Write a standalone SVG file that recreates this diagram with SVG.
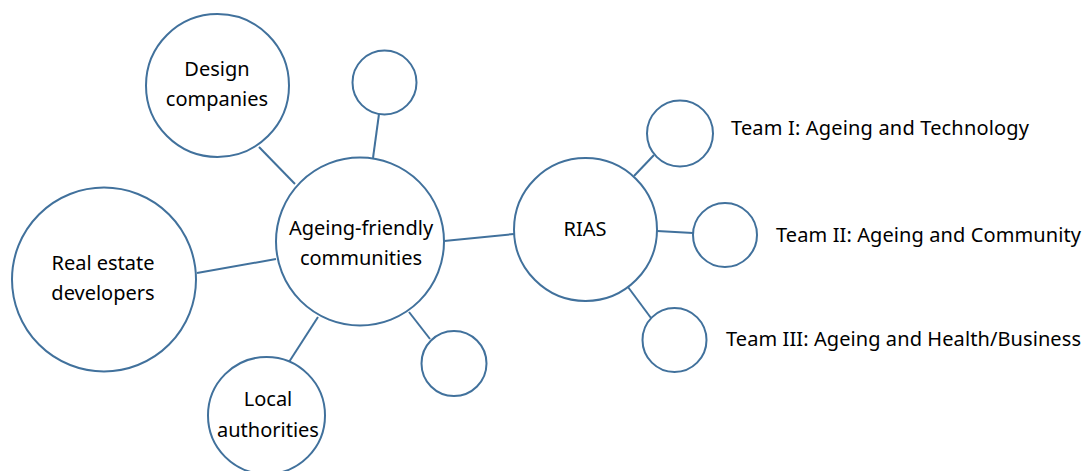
<svg xmlns="http://www.w3.org/2000/svg" width="1085" height="471" viewBox="0 0 1085 471">
  <style>
    .node { fill: #ffffff; stroke: #41719c; stroke-width: 2; }
    .link { stroke: #41719c; stroke-width: 2; fill: none; }
    .label { font-family: "Noto Sans", "Open Sans", sans-serif; font-size: 20px; fill: #000000; text-anchor: middle; }
    .side { font-family: "Noto Sans", "Open Sans", sans-serif; font-size: 20px; fill: #000000; }
  </style>
  <rect width="1085" height="471" fill="#ffffff"/>

  <!-- connectors -->
  <g id="connectors">
    <line class="link" x1="259" y1="147" x2="295" y2="184"/>
    <line class="link" x1="379" y1="114" x2="373" y2="158"/>
    <line class="link" x1="197" y1="273" x2="276" y2="259"/>
    <line class="link" x1="289" y1="362" x2="318" y2="317"/>
    <line class="link" x1="409" y1="312" x2="430" y2="339"/>
    <line class="link" x1="444" y1="241" x2="514" y2="234"/>
    <line class="link" x1="634" y1="176" x2="654" y2="155"/>
    <line class="link" x1="657" y1="231" x2="693" y2="233"/>
    <line class="link" x1="628" y1="287" x2="651" y2="318"/>
  </g>

  <g id="design-companies">
    <circle class="node" cx="217.5" cy="85.5" r="71.5"/>
    <text class="label" x="217" y="76">Design</text>
    <text class="label" x="217" y="106">companies</text>
  </g>

  <g id="blank-top">
    <circle class="node" cx="384.5" cy="82.5" r="32"/>
  </g>

  <g id="real-estate-developers">
    <circle class="node" cx="104" cy="279.5" r="92"/>
    <text class="label" x="103" y="270">Real estate</text>
    <text class="label" x="103" y="300">developers</text>
  </g>

  <g id="ageing-friendly-communities">
    <circle class="node" cx="360" cy="241.5" r="84"/>
    <text class="label" x="361" y="235">Ageing-friendly</text>
    <text class="label" x="361" y="265">communities</text>
  </g>

  <g id="local-authorities">
    <circle class="node" cx="266.5" cy="415.5" r="58.5"/>
    <text class="label" x="268" y="406">Local</text>
    <text class="label" x="268" y="437">authorities</text>
  </g>

  <g id="blank-bottom">
    <circle class="node" cx="454" cy="363.5" r="32.5"/>
  </g>

  <g id="rias">
    <circle class="node" cx="585.5" cy="229.5" r="71.5"/>
    <text class="label" x="585" y="236">RIAS</text>
  </g>

  <g id="team-1">
    <circle class="node" cx="680" cy="133.5" r="33"/>
    <text class="side" x="731" y="135" textLength="298">Team I: Ageing and Technology</text>
  </g>

  <g id="team-2">
    <circle class="node" cx="725" cy="235" r="32"/>
    <text class="side" x="776" y="242" textLength="305">Team II: Ageing and Community</text>
  </g>

  <g id="team-3">
    <circle class="node" cx="674.5" cy="340" r="32"/>
    <text class="side" x="726" y="346" textLength="355">Team III: Ageing and Health/Business</text>
  </g>
</svg>
